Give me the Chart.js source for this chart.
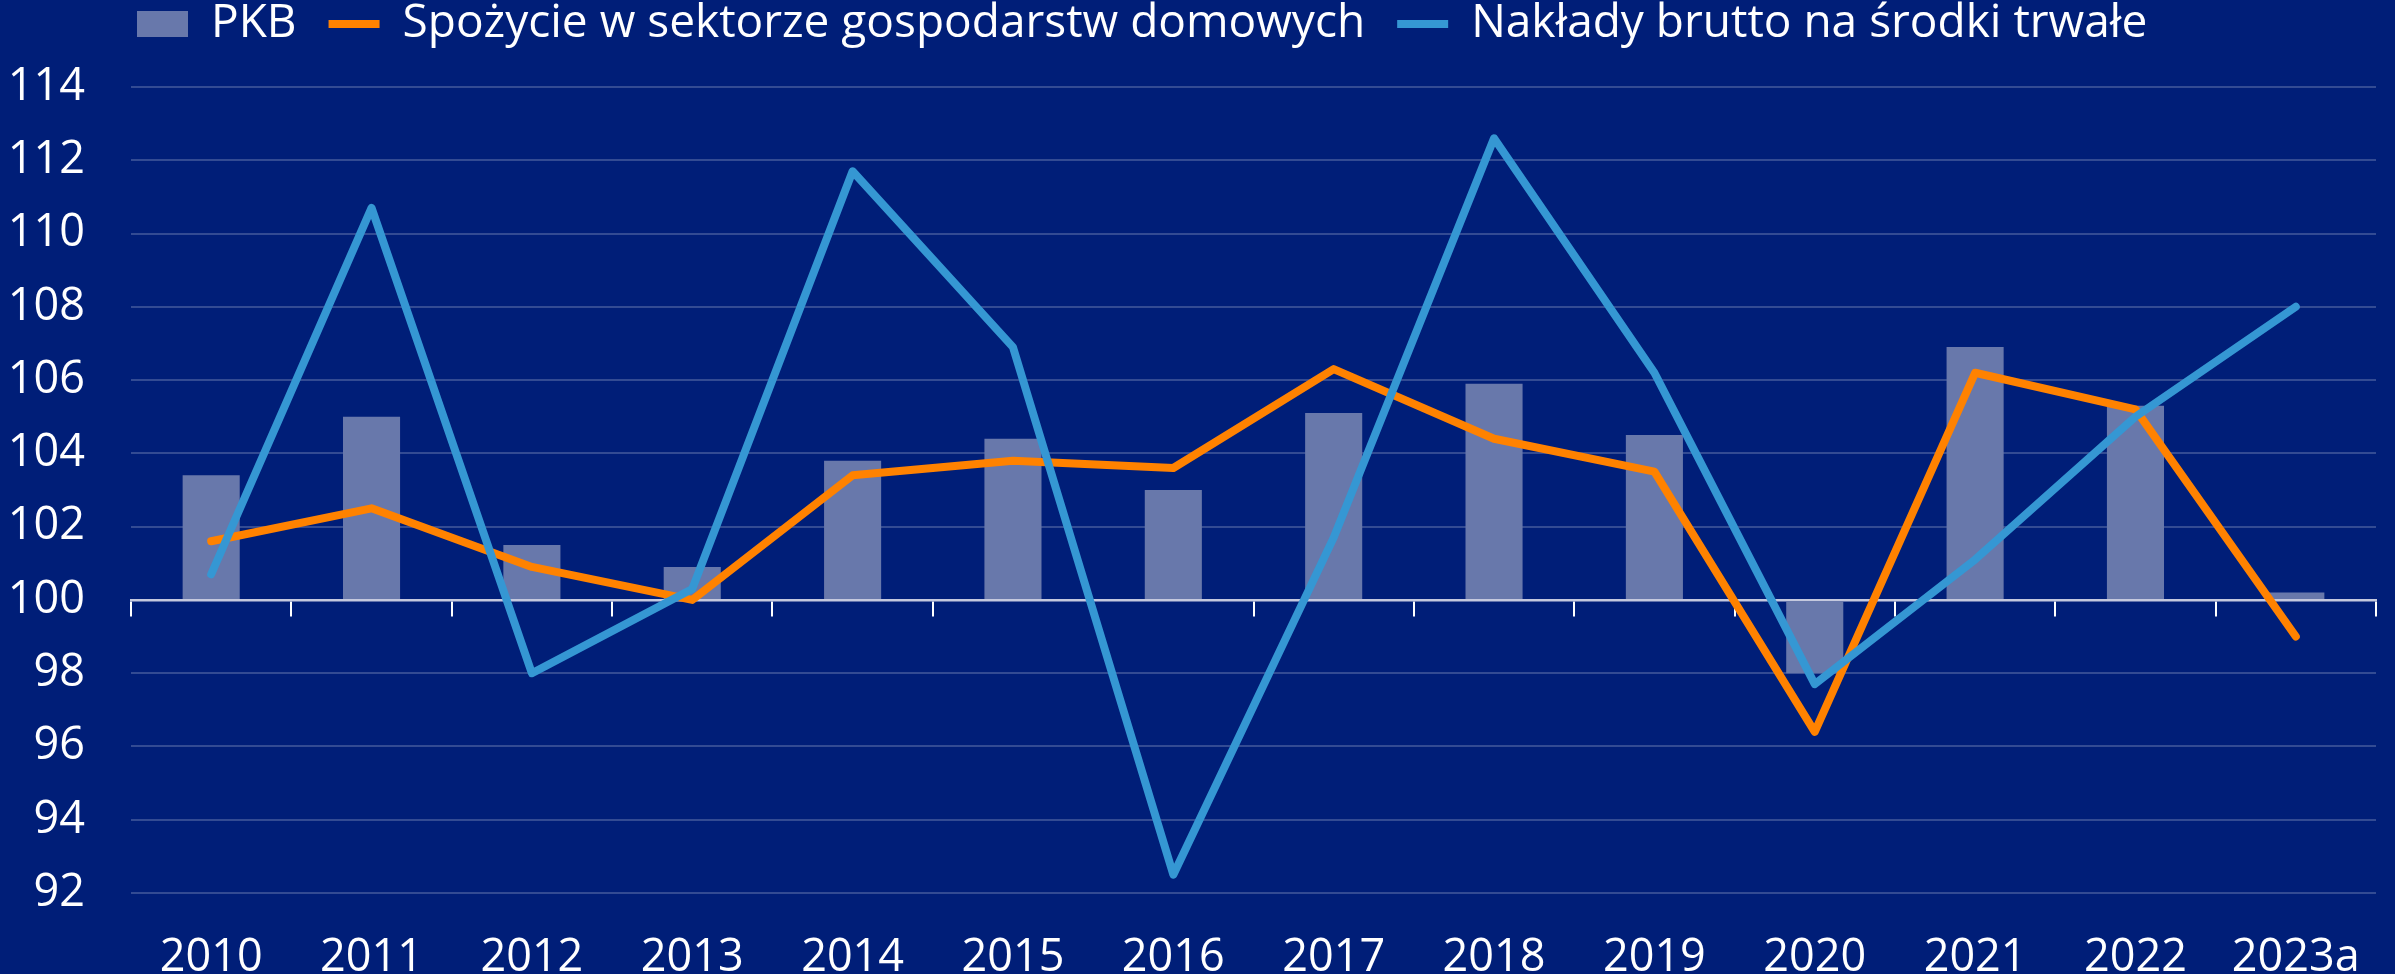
<!DOCTYPE html>
<html>
<head>
<meta charset="utf-8">
<script src="https://cdn.jsdelivr.net/npm/chart.js@4.4.1/dist/chart.umd.min.js"></script>
<style>
  html, body { margin: 0; padding: 0; background: #001E78; }
  #wrap { width: 2395px; height: 974px; position: relative; background: #001E78; }
  canvas { display: block; }
</style>
</head>
<body>
<div id="wrap"><canvas id="chart" width="2395" height="974"></canvas></div>
<script>
// ---- data ----
const categories = ['2010', '2011', '2012', '2013', '2014', '2015', '2016', '2017', '2018', '2019', '2020', '2021', '2022', '2023a'];
const seriesNames = ['PKB', 'Spożycie w sektorze gospodarstw domowych', 'Nakłady brutto na środki trwałe'];
const gdp = [103.4, 105.0, 101.5, 100.9, 103.8, 104.4, 103.0, 105.1, 105.9, 104.5, 98.0, 106.9, 105.3, 100.2];
const consumption = [101.6, 102.5, 100.9, 100.0, 103.4, 103.8, 103.6, 106.3, 104.4, 103.5, 96.4, 106.2, 105.2, 99.0];
const investment = [100.7, 110.7, 98.0, 100.3, 111.7, 106.9, 92.5, 101.7, 112.6, 106.2, 97.7, 101.1, 105.0, 108.0];
const yMin = 92;
const yMax = 114;
const yStep = 2;
const baseValue = 100;

// ---- style ----
const BG = '#001E78';
const BAR = '#6878AB';
const ORANGE = '#FF8200';
const BLUE = '#3597D3';
const FONT = "'Open Sans', 'Noto Sans', sans-serif";
const FS = 46;
const AXIS_FS = 45;

const legendPlacement = {
  id: 'legendPlacement',
  beforeInit(chart) {
    const legend = chart.legend;
    const origFit = legend.fit;
    legend.fit = function () {
      origFit.call(this);
      this.height = 87;
    };
  },
  afterLayout(chart) {
    const legend = chart.legend;
    legend.left = 105;
    legend.top = -31;
  }
};

function draw() {
  Chart.defaults.font.family = FONT;
  Chart.defaults.color = '#FFFFFF';
  new Chart(document.getElementById('chart'), {
    type: 'bar',
    data: {
      labels: categories,
      datasets: [
        {
          type: 'bar',
          label: seriesNames[0],
          data: gdp,
          base: baseValue,
          backgroundColor: BAR,
          borderWidth: 0,
          barPercentage: 0.356,
          categoryPercentage: 1.0,
          pointStyle: 'rect',
          order: 3
        },
        {
          type: 'line',
          label: seriesNames[1],
          data: consumption,
          borderColor: ORANGE,
          backgroundColor: ORANGE,
          borderWidth: 8,
          borderCapStyle: 'round',
          borderJoinStyle: 'round',
          pointRadius: 0,
          pointHoverRadius: 0,
          pointStyle: 'line',
          tension: 0,
          fill: false,
          order: 2
        },
        {
          type: 'line',
          label: seriesNames[2],
          data: investment,
          borderColor: BLUE,
          backgroundColor: BLUE,
          borderWidth: 8,
          borderCapStyle: 'round',
          borderJoinStyle: 'round',
          pointRadius: 0,
          pointHoverRadius: 0,
          pointStyle: 'line',
          tension: 0,
          fill: false,
          order: 1
        }
      ]
    },
    options: {
      responsive: false,
      animation: false,
      devicePixelRatio: 1,
      layout: { padding: { left: 0, right: 19, top: 0, bottom: 0 } },
      plugins: {
        legend: {
          display: true,
          position: 'top',
          align: 'start',
          labels: {
            color: '#FFFFFF',
            font: { size: FS, family: FONT },
            usePointStyle: true,
            pointStyleWidth: 51,
            boxHeight: 26,
            padding: 32,
            sort: (a, b) => a.datasetIndex - b.datasetIndex
          }
        },
        tooltip: { enabled: false },
        title: { display: false }
      },
      scales: {
        x: {
          type: 'category',
          position: 'bottom',
          offset: true,
          grid: { display: false },
          border: { display: false },
          ticks: {
            color: '#FFFFFF',
            font: { size: AXIS_FS, family: FONT },
            padding: 30,
            maxRotation: 0,
            autoSkip: false
          },
          afterFit: (scale) => { scale.height = 81; }
        },
        xBase: {
          type: 'category',
          labels: categories,
          position: { y: baseValue },
          offset: true,
          grid: {
            display: true,
            drawOnChartArea: false,
            drawTicks: true,
            tickLength: 15,
            offset: true,
            color: '#FFFFFF',
            lineWidth: 2
          },
          border: { display: true, color: '#C4C8DE', width: 2.5 },
          ticks: { display: false }
        },
        y: {
          type: 'linear',
          position: 'left',
          min: yMin,
          max: yMax,
          ticks: {
            stepSize: yStep,
            color: '#FFFFFF',
            font: { size: AXIS_FS, family: FONT },
            padding: 46
          },
          grid: {
            color: 'rgba(255,255,255,0.2)',
            lineWidth: 2,
            drawTicks: false
          },
          border: { display: false },
          afterFit: (scale) => { scale.width = 131; }
        }
      }
    },
    plugins: [legendPlacement]
  });
}

if (document.fonts && document.fonts.load) {
  document.fonts.load(FS + "px 'Open Sans'").then(draw, draw);
} else {
  draw();
}
</script>
</body>
</html>
